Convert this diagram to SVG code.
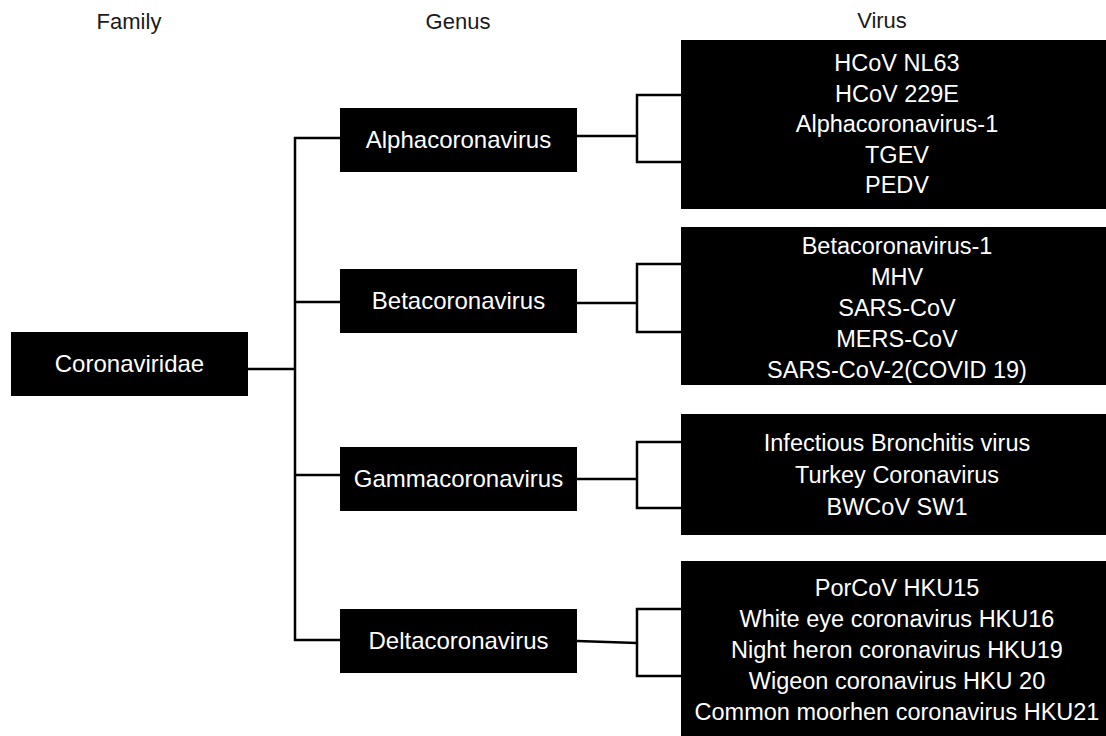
<svg xmlns="http://www.w3.org/2000/svg" width="1106" height="736" viewBox="0 0 1106 736">
<style>
  text{font-family:"Liberation Sans",Arial,sans-serif;text-anchor:middle}
  .hdr{font-size:22px;fill:#1a1a1a}
  .box{fill:#000}
  .lbl{font-size:24px;fill:#fff}
  .lst{font-size:23.5px;fill:#fff}
  .con{fill:none;stroke:#000;stroke-width:2.5;stroke-linejoin:miter}
</style>
<rect width="1106" height="736" fill="#fff"/>
<g id="headers">
  <text class="hdr" x="129" y="29">Family</text>
  <text class="hdr" x="458" y="29">Genus</text>
  <text class="hdr" x="882" y="28">Virus</text>
</g>
<g id="connectors">
  <path class="con" d="M248 369H295"/>
  <path class="con" d="M340 138H295V640H340"/>
  <path class="con" d="M295 302H340"/>
  <path class="con" d="M295 475H340"/>
  <path class="con" d="M577 136H637"/>
  <path class="con" d="M681 95H637V162H681"/>
  <path class="con" d="M577 303H637"/>
  <path class="con" d="M681 264H637V332H681"/>
  <path class="con" d="M577 479H637"/>
  <path class="con" d="M681 442H637V508H681"/>
  <path class="con" d="M577 641L637 643"/>
  <path class="con" d="M681 609H637V676H681"/>
</g>
<g id="coronaviridae">
  <rect class="box" x="11" y="332" width="237" height="64"/>
  <text class="lbl" x="129.5" y="372">Coronaviridae</text>
</g>
<g id="alphacoronavirus">
  <rect class="box" x="340" y="108" width="237" height="64"/>
  <text class="lbl" x="458.5" y="148">Alphacoronavirus</text>
</g>
<g id="betacoronavirus">
  <rect class="box" x="340" y="269" width="237" height="64"/>
  <text class="lbl" x="458.5" y="309">Betacoronavirus</text>
</g>
<g id="gammacoronavirus">
  <rect class="box" x="340" y="447" width="237" height="64"/>
  <text class="lbl" x="458.5" y="487">Gammacoronavirus</text>
</g>
<g id="deltacoronavirus">
  <rect class="box" x="340" y="609" width="237" height="64"/>
  <text class="lbl" x="458.5" y="649">Deltacoronavirus</text>
</g>
<g id="alpha-viruses">
  <rect class="box" x="681" y="40" width="430" height="169"/>
  <text class="lst" x="897" y="71">HCoV NL63</text>
  <text class="lst" x="897" y="101.5">HCoV 229E</text>
  <text class="lst" x="897" y="132">Alphacoronavirus-1</text>
  <text class="lst" x="897" y="162.5">TGEV</text>
  <text class="lst" x="897" y="193">PEDV</text>
</g>
<g id="beta-viruses">
  <rect class="box" x="681" y="227" width="430" height="158"/>
  <text class="lst" x="897" y="254">Betacoronavirus-1</text>
  <text class="lst" x="897" y="285">MHV</text>
  <text class="lst" x="897" y="316">SARS-CoV</text>
  <text class="lst" x="897" y="347">MERS-CoV</text>
  <text class="lst" x="897" y="378">SARS-CoV-2(COVID 19)</text>
</g>
<g id="gamma-viruses">
  <rect class="box" x="681" y="414" width="430" height="121"/>
  <text class="lst" x="897" y="451">Infectious Bronchitis virus</text>
  <text class="lst" x="897" y="483">Turkey Coronavirus</text>
  <text class="lst" x="897" y="515">BWCoV SW1</text>
</g>
<g id="delta-viruses">
  <rect class="box" x="681" y="561" width="430" height="180"/>
  <text class="lst" x="897" y="596">PorCoV HKU15</text>
  <text class="lst" x="897" y="627">White eye coronavirus HKU16</text>
  <text class="lst" x="897" y="658">Night heron coronavirus HKU19</text>
  <text class="lst" x="897" y="689">Wigeon coronavirus HKU 20</text>
  <text class="lst" x="897" y="720">Common moorhen coronavirus HKU21</text>
</g>
</svg>
